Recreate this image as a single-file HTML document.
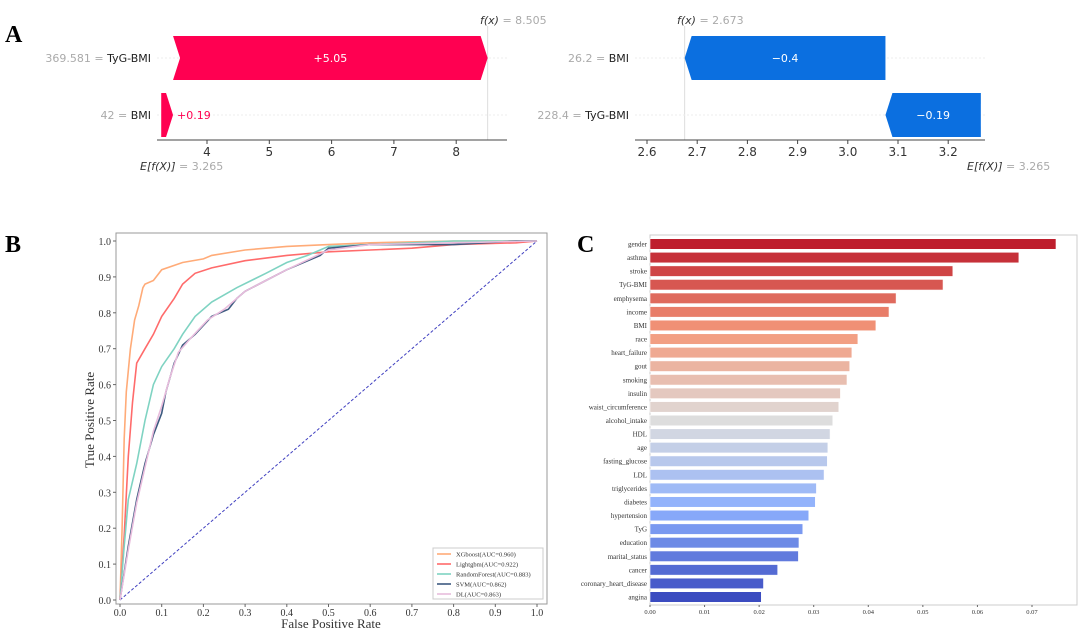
<!DOCTYPE html>
<html><head><meta charset="utf-8"><style>
body{margin:0;background:#fff;width:1080px;height:629px;overflow:hidden}
svg{display:block}
.ser{font-family:"Liberation Serif",serif}
.san{font-family:"DejaVu Sans","Liberation Sans",sans-serif}
</style></head><body>
<svg id="s" width="1080" height="629" viewBox="0 0 1080 629" xmlns="http://www.w3.org/2000/svg">
<text class="ser" x="5" y="42" font-size="24" font-weight="bold">A</text>
<text class="ser" x="5" y="252" font-size="24" font-weight="bold">B</text>
<text class="ser" x="577" y="252" font-size="24" font-weight="bold">C</text>
<g id="wfL"></g>
<g id="wfR"></g>
<g id="roc"></g>
<g id="imp"></g>
</svg>
<script>
// ---- Waterfall data ----
const wfLeftFeatures = ["369.581 = TyG-BMI", "42 = BMI"];
const wfLeftValues = [5.05, 0.19];
const wfLeftBase = 3.265;
const wfLeftFx = 8.505;
const wfLeftTicks = [4,5,6,7,8];
const wfRightFeatures = ["26.2 = BMI", "228.4 = TyG-BMI"];
const wfRightValues = [-0.4, -0.19];
const wfRightBase = 3.265;
const wfRightFx = 2.673;
const wfRightTicks = [2.6,2.7,2.8,2.9,3.0,3.1,3.2];
// ---- ROC data ----
const rocNames = ["XGboost(AUC=0.960)","Lightgbm(AUC=0.922)","RandomForest(AUC=0.883)","SVM(AUC=0.862)","DL(AUC=0.863)"];
const xgbFpr=[0,0.005,0.01,0.015,0.025,0.035,0.045,0.055,0.06,0.08,0.1,0.15,0.2,0.22,0.3,0.4,0.5,0.6,0.8,1];
const xgbTpr=[0,0.2,0.45,0.58,0.7,0.78,0.82,0.87,0.88,0.89,0.92,0.94,0.95,0.96,0.975,0.985,0.99,0.995,1,1];
const lgbFpr=[0,0.01,0.02,0.03,0.04,0.06,0.08,0.1,0.13,0.15,0.18,0.22,0.3,0.4,0.5,0.6,0.7,0.8,0.95,1];
const lgbTpr=[0,0.18,0.4,0.55,0.66,0.7,0.74,0.79,0.84,0.88,0.91,0.925,0.945,0.96,0.97,0.975,0.98,0.99,0.995,1];
const rfFpr=[0,0.01,0.02,0.04,0.06,0.08,0.1,0.13,0.15,0.18,0.22,0.28,0.35,0.4,0.45,0.5,0.6,0.8,1];
const rfTpr=[0,0.15,0.28,0.38,0.5,0.6,0.65,0.7,0.74,0.79,0.83,0.87,0.91,0.94,0.96,0.985,0.99,1,1];
const svmFpr=[0,0.02,0.04,0.06,0.08,0.1,0.11,0.13,0.15,0.18,0.22,0.26,0.28,0.3,0.35,0.4,0.48,0.5,0.6,0.8,0.95,1];
const svmTpr=[0,0.15,0.28,0.38,0.46,0.52,0.58,0.66,0.71,0.74,0.79,0.81,0.84,0.86,0.89,0.92,0.96,0.98,0.99,0.99,1,1];
const dlFpr=[0,0.02,0.04,0.06,0.08,0.1,0.12,0.14,0.17,0.21,0.25,0.3,0.35,0.4,0.5,0.6,0.8,1];
const dlTpr=[0,0.14,0.27,0.37,0.47,0.54,0.62,0.69,0.73,0.78,0.81,0.86,0.89,0.92,0.975,0.99,0.995,1];
const rocTicks=[0,0.1,0.2,0.3,0.4,0.5,0.6,0.7,0.8,0.9,1.0];
// ---- Importance data ----
const impFeatures=["gender","asthma","stroke","TyG-BMI","emphysema","income","BMI","race","heart_failure","gout","smoking","insulin","waist_circumference","alcohol_intake","HDL","age","fasting_glucose","LDL","triglycerides","diabetes","hypertension","TyG","education","marital_status","cancer","coronary_heart_disease","angina"];
const impValues=[0.0744,0.0676,0.0555,0.0537,0.0451,0.0438,0.0414,0.0381,0.037,0.0366,0.0361,0.0349,0.0346,0.0335,0.033,0.0326,0.0325,0.0319,0.0305,0.0303,0.0291,0.028,0.0273,0.0272,0.0234,0.0208,0.0204];
const impTicks=[0,0.01,0.02,0.03,0.04,0.05,0.06,0.07];

const NS="http://www.w3.org/2000/svg";
function mk(p,t,a,txt){const e=document.createElementNS(NS,t);for(const k in a)e.setAttribute(k,a[k]);if(txt!==undefined)e.textContent=txt;p.appendChild(e);return e;}

function waterfall(g,feat,vals,base,fxLabel,ticks,x0,v0,pxPer,axL,axR,labR,fxX,eX,color){
  const X=v=>x0+(v-v0)*pxPer;
  const rows=[[36,80],[93,137]];
  let cur=base;
  const ends=[];
  for(let i=vals.length-1;i>=0;i--){ends[i]=[cur,cur+vals[i]];cur+=vals[i];}
  const fx=cur;
  mk(g,'line',{x1:X(fx),x2:X(fx),y1:26,y2:140,stroke:'#ddd','stroke-width':1});
  for(let i=0;i<vals.length;i++){
    const [y1,y2]=rows[i];const yc=(y1+y2)/2;
    const gl=mk(g,'line',{x1:axL,x2:axR,y1:yc,y2:yc,stroke:'#eee','stroke-dasharray':'2,2'});
    
    const a=X(Math.min(...ends[i])),b=X(Math.max(...ends[i]));
    const tip=Math.min(7,(b-a));
    let pts;
    if(vals[i]>0)pts=`${a},${y1} ${b-tip},${y1} ${b},${yc} ${b-tip},${y2} ${a},${y2} ${a+tip},${yc}`;
    else pts=`${a+tip},${y1} ${b},${y1} ${b},${y2} ${a+tip},${y2} ${a},${yc}`;
    if(vals[i]>0&&b-a<20)pts=`${a},${y1} ${b-tip},${y1} ${b},${yc} ${b-tip},${y2} ${a},${y2}`;
    const p=mk(g,'polygon',{points:pts,fill:color});
    
    const lab=(vals[i]>0?'+':'\u2212')+Math.abs(vals[i]);
    if(b-a>40){mk(g,'text',{x:(a+b)/2,y:yc+4,'text-anchor':'middle','font-size':11,fill:'#fff',class:'san'},lab);}
    else{mk(g,'text',{x:b+4,y:yc+4,'font-size':11,fill:color,class:'san'},lab);}
    const parts=feat[i].split(' = ');
    const t=mk(g,'text',{x:labR,y:yc+4,'text-anchor':'end','font-size':11,class:'san'});
    mk(t,'tspan',{fill:'#aaa'},parts[0]+' = ');mk(t,'tspan',{fill:'#222'},parts[1]);
    
  }
  mk(g,'line',{x1:axL,x2:axR,y1:140,y2:140,stroke:'#444','stroke-width':1});
  ticks.forEach(v=>{mk(g,'line',{x1:X(v),x2:X(v),y1:140,y2:144,stroke:'#444'});
    mk(g,'text',{x:X(v),y:156,'text-anchor':'middle','font-size':12,fill:'#333',class:'san'},v.toFixed(v<4?1:0));});
  const f=mk(g,'text',{x:fxX,y:24,'font-size':11,class:'san'});
  mk(f,'tspan',{fill:'#333','font-style':'italic'},'f(x)');mk(f,'tspan',{fill:'#aaa'},' = '+fxLabel.toFixed(3));
  const e=mk(g,'text',{x:eX,y:170,'font-size':11,class:'san'});
  mk(e,'tspan',{fill:'#333','font-style':'italic'},'E[f(X)]');mk(e,'tspan',{fill:'#aaa'},' = '+base.toFixed(3));
}
waterfall(document.getElementById('wfL'),wfLeftFeatures,wfLeftValues,wfLeftBase,wfLeftFx,wfLeftTicks,207,4,62.3,157,507,151,480,140,'#ff0051');
waterfall(document.getElementById('wfR'),wfRightFeatures,wfRightValues,wfRightBase,wfRightFx,wfRightTicks,647,2.6,502,635,985,629,677,967,'#0b6fe0');

// ROC
(function(){
  const g=document.getElementById('roc');
  const X=v=>120+v*417, Y=v=>600-v*359;
  mk(g,'rect',{x:116,y:233,width:431,height:371,fill:'none',stroke:'#999','stroke-width':1});
  rocTicks.forEach(v=>{
    mk(g,'line',{x1:X(v),x2:X(v),y1:604,y2:607,stroke:'#666'});
    mk(g,'text',{x:X(v),y:616,'text-anchor':'middle','font-size':10,fill:'#333',class:'ser'},v.toFixed(1));
    mk(g,'line',{x1:113,x2:116,y1:Y(v),y2:Y(v),stroke:'#666'});
    mk(g,'text',{x:111,y:Y(v)+4,'text-anchor':'end','font-size':10,fill:'#333',class:'ser'},v.toFixed(1));
  });
  const xt=mk(g,'text',{x:331,y:628,'text-anchor':'middle','font-size':13,fill:'#333',class:'ser'},'False Positive Rate');
  
  const yt=mk(g,'text',{x:0,y:0,transform:'translate(94,420) rotate(-90)','text-anchor':'middle','font-size':13,fill:'#333',class:'ser'},'True Positive Rate');
  
  const dg=mk(g,'line',{x1:X(0),y1:Y(0),x2:X(1),y2:Y(1),stroke:'#4040c0','stroke-dasharray':'3,2','stroke-width':1});
  
  const series=[[xgbFpr,xgbTpr,'#ffab78'],[lgbFpr,lgbTpr,'#ff6b6b'],[rfFpr,rfTpr,'#7fd3c2'],[svmFpr,svmTpr,'#3d5a80'],[dlFpr,dlTpr,'#e8bcdc']];
  const names=['roc-xgboost','roc-lightgbm','roc-randomforest','roc-svm','roc-dl'];
  series.forEach((s,i)=>{
    const d=s[0].map((f,j)=>(j?'L':'M')+X(f).toFixed(1)+','+Y(s[1][j]).toFixed(1)).join('');
    const p=mk(g,'path',{d:d,fill:'none',stroke:s[2],'stroke-width':1.6});
    
  });
  const lg=mk(g,'g',{});
  
  mk(lg,'rect',{x:433,y:548,width:110,height:51,fill:'#fff',stroke:'#ccc'});
  rocNames.forEach((n,i)=>{
    const y=554+i*10;
    mk(lg,'line',{x1:437,x2:451,y1:y,y2:y,stroke:series[i][2],'stroke-width':1.6});
    const t=mk(lg,'text',{x:456,y:y+2.5,'font-size':6.5,fill:'#333',class:'ser'},n);
    
  });
})();

// Importance
(function(){
  const g=document.getElementById('imp');
  const X=v=>650+v*5457;
  const n=impFeatures.length, top=244, step=(597-244)/(n-1);
  mk(g,'rect',{x:650,y:235,width:427,height:370,fill:'none',stroke:'#ccc'});
  function cw(t){
    const stops=[[0,[59,76,192]],[0.25,[141,176,254]],[0.5,[221,221,221]],[0.75,[244,154,123]],[1,[190,30,45]]];
    for(let i=1;i<stops.length;i++){if(t<=stops[i][0]){const a=stops[i-1],b=stops[i];const u=(t-a[0])/(b[0]-a[0]);
      return 'rgb('+a[1].map((c,k)=>Math.round(c+(b[1][k]-c)*u)).join(',')+')';}}
    return 'rgb(190,30,45)';
  }
  impFeatures.forEach((f,i)=>{
    const yc=top+i*step;
    const r=mk(g,'rect',{x:650,y:yc-5.3,width:X(impValues[i])-650,height:10.6,fill:cw(1-i/(n-1)),stroke:'#fff','stroke-width':0.6});
    
    mk(g,'text',{x:647,y:yc+2.5,'text-anchor':'end','font-size':7,fill:'#333',class:'ser'},f);
  });
  impTicks.forEach(v=>{
    mk(g,'line',{x1:X(v),x2:X(v),y1:605,y2:607,stroke:'#666'});
    mk(g,'text',{x:X(v),y:614,'text-anchor':'middle','font-size':6.5,fill:'#333',class:'ser'},v.toFixed(2));
  });
})();
</script>
</body></html>
